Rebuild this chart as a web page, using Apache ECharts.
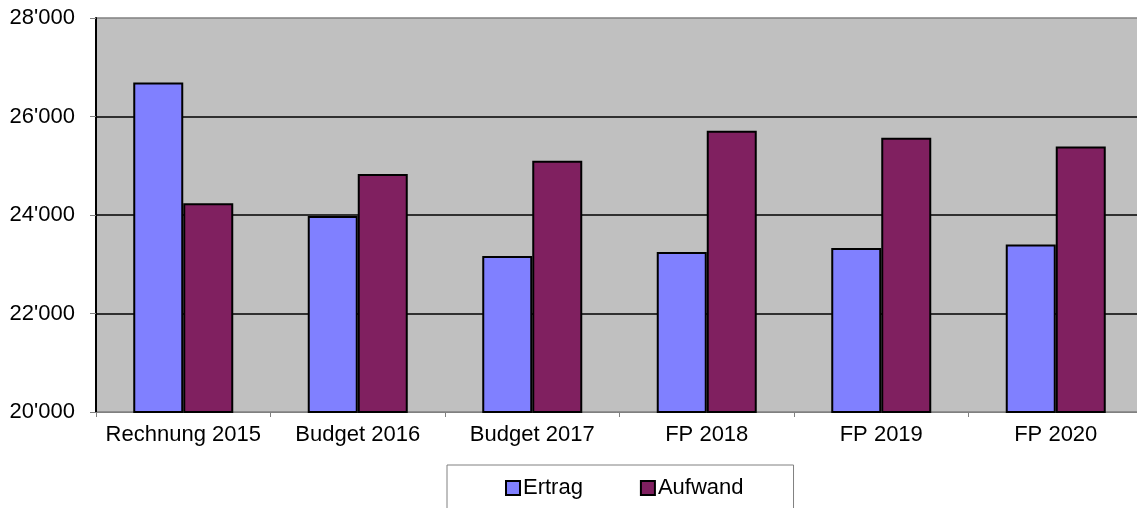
<!DOCTYPE html>
<html>
<head>
<meta charset="utf-8">
<script src="https://cdn.jsdelivr.net/npm/echarts@6/dist/echarts.min.js"></script>
<style>
  html, body { margin: 0; padding: 0; background: #fff; }
  #chart { width: 1137px; height: 508px; }
</style>
</head>
<body>
<div id="chart"></div>
<script>
const categories = ['Rechnung 2015', 'Budget 2016', 'Budget 2017', 'FP 2018', 'FP 2019', 'FP 2020']
const ertrag = [26690, 23980, 23170, 23250, 23330, 23400]
const aufwand = [24240, 24830, 25100, 25710, 25570, 25390]

const fmt = v => {
  const s = String(Math.round(v))
  return s.replace(/\B(?=(\d{3})+(?!\d))/g, "'")
}

const font = 'Liberation Sans, Arial, sans-serif'
const chart = echarts.init(document.getElementById('chart'))

chart.setOption({
  animation: false,
  textStyle: { fontFamily: font, color: '#000' },
  grid: {
    left: 96,
    width: 1047,
    top: 18,
    bottom: 96,
    outerBoundsMode: 'none',
    show: true,
    backgroundColor: '#C0C0C0',
    borderWidth: 0
  },
  legend: {
    left: 447,
    top: 465,
    padding: [12, 50, 30, 58],
    backgroundColor: '#fff',
    borderColor: '#808080',
    borderWidth: 1,
    itemWidth: 14,
    itemHeight: 14,
    itemGap: 57,
    icon: 'rect',
    textStyle: { fontSize: 22, color: '#000', fontFamily: font, padding: [0, 0, 0, -2] },
    itemStyle: { borderColor: '#000', borderWidth: 2 },
    data: ['Ertrag', 'Aufwand']
  },
  xAxis: {
    type: 'category',
    data: categories,
    boundaryGap: true,
    axisLine: { lineStyle: { color: '#808080', width: 1 } },
    axisTick: { show: true, length: 5, interval: 0, lineStyle: { color: '#808080' } },
    axisLabel: { fontSize: 22, color: '#000', margin: 12, interval: 0, fontFamily: font }
  },
  yAxis: {
    type: 'value',
    min: 20000,
    max: 28000,
    interval: 2000,
    axisLine: { show: true, lineStyle: { color: '#000', width: 2 } },
    axisTick: { show: true, length: 6, lineStyle: { color: '#808080' } },
    axisLabel: { fontSize: 22, color: '#000', margin: 21, fontFamily: font, formatter: fmt },
    splitLine: {
      show: true,
      lineStyle: { color: ['#808080', '#000', '#000', '#000', '#808080'], width: 1.5 }
    }
  },
  series: [
    {
      name: 'Ertrag',
      type: 'bar',
      data: ertrag,
      barWidth: 50,
      barGap: '0%',
      itemStyle: { color: '#8080FF', borderColor: '#000', borderWidth: 2 }
    },
    {
      name: 'Aufwand',
      type: 'bar',
      data: aufwand,
      barWidth: 50,
      barGap: '0%',
      itemStyle: { color: '#802060', borderColor: '#000', borderWidth: 2 }
    }
  ]
})
</script>
</body>
</html>
